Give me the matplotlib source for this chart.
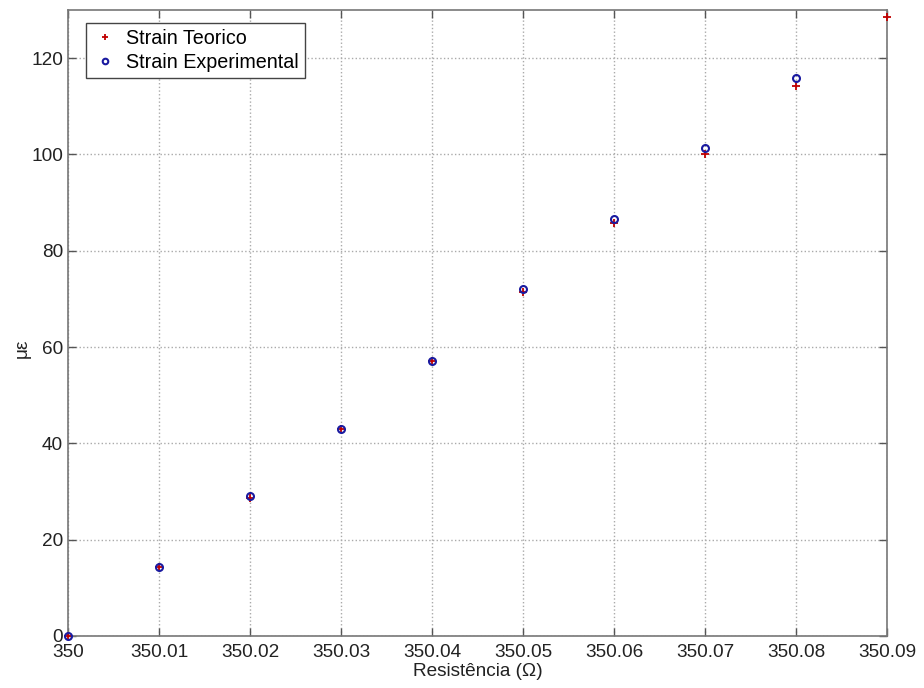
import matplotlib
matplotlib.use("Agg")
import matplotlib.pyplot as plt
from matplotlib.ticker import FuncFormatter

plt.rcParams['font.family'] = ['Liberation Sans', 'DejaVu Sans']

# dados
resistencia = [350.00, 350.01, 350.02, 350.03, 350.04, 350.05, 350.06, 350.07, 350.08, 350.09]
strain_teorico = [0.0, 14.3, 28.6, 42.9, 57.1, 71.4, 85.7, 100.0, 114.3, 128.6]
resist_exp = [350.00, 350.01, 350.02, 350.03, 350.04, 350.05, 350.06, 350.07, 350.08]
strain_exp = [0.0, 14.4, 29.0, 43.0, 57.2, 72.0, 86.5, 101.4, 115.8]

x_ticks = [350.00, 350.01, 350.02, 350.03, 350.04, 350.05, 350.06, 350.07, 350.08, 350.09]
y_ticks = [0, 20, 40, 60, 80, 100, 120]

fig = plt.figure(figsize=(9.24, 6.88), dpi=100)
ax = fig.add_axes([0.0736, 0.0756, 0.8864, 0.9099])

ax.plot(resistencia, strain_teorico, '+', color='#c00000', markersize=6, mew=1.3,
        label='Strain Teorico', clip_on=False, zorder=3)
ax.plot(resist_exp, strain_exp, 'o', color='#1a1aa0', mfc='none', markersize=5, mew=1.5,
        label='Strain Experimental', clip_on=False, zorder=4)

ax.set_xlim(350.0, 350.09)
ax.set_ylim(0, 130)
ax.set_xticks(x_ticks)
ax.set_yticks(y_ticks)
ax.xaxis.set_major_formatter(FuncFormatter(lambda v, p: ('%.2f' % v).rstrip('0').rstrip('.')))

ax.grid(True, linestyle=':', color='#aaaaaa', linewidth=1.0)
ax.tick_params(direction='in', length=6, width=1.0, colors='#555555', labelcolor='#222222',
               labelsize=13.7, top=True, right=True)
ax.tick_params(axis='x', pad=6)
for s in ax.spines.values():
    s.set_color('#777777')
    s.set_linewidth(1.2)

ax.set_xlabel('Resistência (Ω)', fontsize=13.7, color='#222222', labelpad=1)
ax.set_ylabel('με', fontsize=13.7, color='#222222', labelpad=0)
ax.yaxis.set_label_coords(-0.045, 0.46)

leg = ax.legend(loc='upper left', bbox_to_anchor=(0.022, 0.979), fontsize=14.2,
                fancybox=False, framealpha=1, edgecolor='#444444', borderaxespad=0,
                handletextpad=0.45, borderpad=0.3, labelspacing=0.25, handlelength=1.3,
                markerscale=0.8)
leg.get_frame().set_linewidth(1.0)

fig.savefig('out.png', dpi=100)
